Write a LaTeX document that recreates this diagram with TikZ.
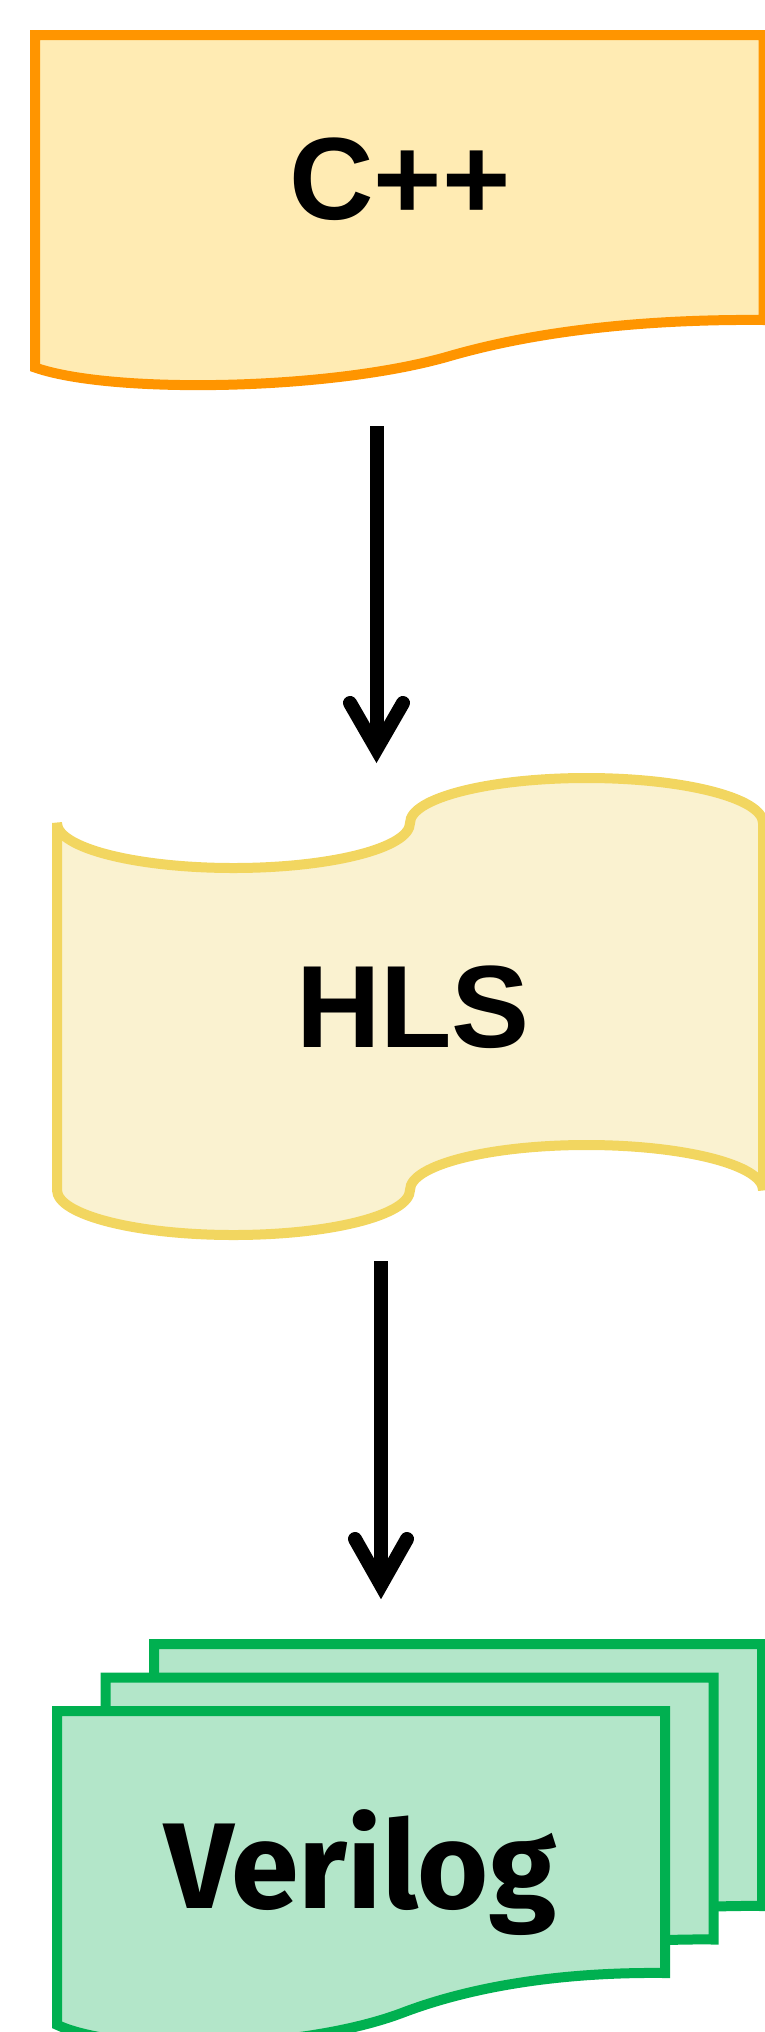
\documentclass[tikz,border=0pt]{standalone}
\usepackage{fontspec}
\setmainfont{Liberation Sans}
\newfontfamily\firafont{Fira Sans}
\usetikzlibrary{calc}
\definecolor{cppfill}{HTML}{FFEBB3}
\definecolor{cppline}{HTML}{FF9500}
\definecolor{hlsfill}{HTML}{FAF2D0}
\definecolor{hlsline}{HTML}{F2D660}
\definecolor{vfill}{HTML}{B3E6C9}
\definecolor{vline}{HTML}{00B050}
\tikzset{
  shapeline/.style={line width=10pt, line join=miter},
  cppshape/.style={shapeline, draw=cppline, fill=cppfill},
  hlsshape/.style={shapeline, draw=hlsline, fill=hlsfill},
  vshape/.style={shapeline, draw=vline, fill=vfill},
  bigtext/.style={anchor=base, inner sep=0pt, font=\bfseries\fontsize{117}{130}\selectfont},
  vtext/.style={anchor=base, inner sep=0pt, font=\firafont\bfseries\fontsize{122}{135}\selectfont},
  shaft/.style={line width=14pt, draw=black},
  headline/.style={line width=14pt, draw=black, line cap=round, line join=miter},
  vsheet/.pic={
    \path[vshape] (0,0) -- (608,0) -- (608,262)
      .. controls (513.3,260.9) and (421.5,273.0) .. (346.4,301.4)
      .. controls (246.2,339.7) and (62.6,343.0) .. (0,313.8) -- cycle;
  }
}
\begin{document}
\begin{tikzpicture}[x=1pt,y=-1pt]
\useasboundingbox (0,0) rectangle (765,2032);
\clip (0,0) rectangle (765,2032);

% C++ document shape
\path[cppshape] (35,35) -- (763.5,35) -- (763.5,320)
  .. controls (650,319) and (540,330) .. (450,356)
  .. controls (330,391) and (110,394) .. (35,367.5) -- cycle;
\node[bigtext] (cpp) at (400,219) {C++};

% HLS tape shape
\path[hlsshape] (57,823)
  .. controls (57,847.85) and (136,868) .. (233.5,868)
  .. controls (331,868) and (410,847.85) .. (410,823)
  .. controls (410,798.15) and (489,778) .. (586.5,778)
  .. controls (684,778) and (763,798.15) .. (763,823)
  -- (763,1190)
  .. controls (763,1165.15) and (684,1145) .. (586.5,1145)
  .. controls (489,1145) and (410,1165.15) .. (410,1190)
  .. controls (410,1214.85) and (331,1235) .. (233.5,1235)
  .. controls (136,1235) and (57,1214.85) .. (57,1190) -- cycle;
\node[bigtext] (hls) at (413,1047) {HLS};

% Verilog stacked documents
\pic at (154,1644) {vsheet};
\pic at (105.5,1677.5) {vsheet};
\pic at (57,1711) {vsheet};
\node[vtext] (verilog) at (360.5,1908) {Verilog};

% Arrows
\coordinate (a1s) at (376.5,426);
\coordinate (a1e) at (376.5,749);
\coordinate (a2s) at (381,1261);
\coordinate (a2e) at (381,1585);
\draw[shaft] (a1s) -- (a1e);
\draw[headline] ([shift={(-26.5,-46)}]a1e) -- (a1e) -- ([shift={(26.5,-46)}]a1e);
\draw[shaft] (a2s) -- (a2e);
\draw[headline] ([shift={(-26,-46)}]a2e) -- (a2e) -- ([shift={(26,-46)}]a2e);
\end{tikzpicture}
\end{document}
